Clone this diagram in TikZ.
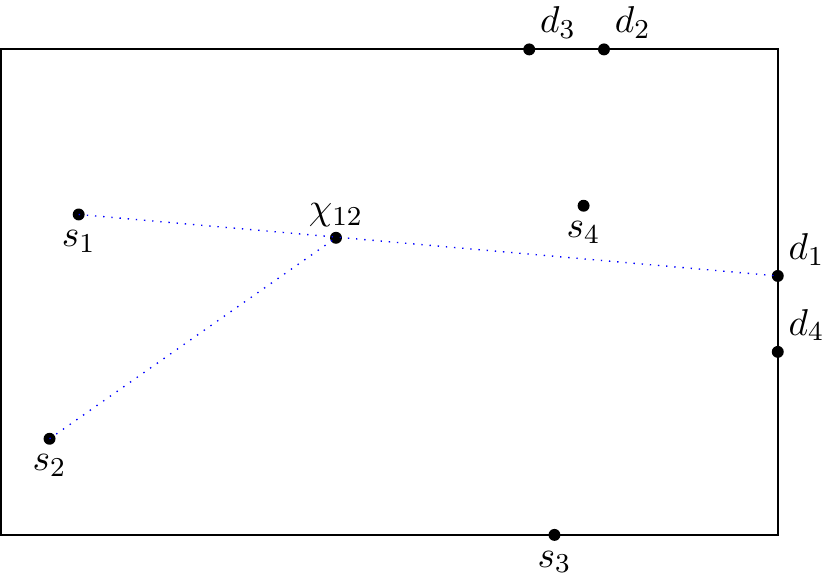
\documentclass[tikz,border=0pt]{standalone}
\begin{document}
\begin{tikzpicture}[
  pt/.style={circle,fill=black,inner sep=0pt,minimum size=3.5pt},
  link/.style={blue,dotted,line width=0.4pt},
  lbl/.style={inner sep=3pt,font=\fontsize{11}{13}\selectfont},
  lblb/.style={lbl,below,inner sep=4.5pt}
]
\useasboundingbox (-0.0103,-0.423) rectangle (8.538,5.509);
\draw[line width=0.6pt] (0,0) rectangle (8,5);
\node[pt] (d3) at (5.44,5) {};
\node[pt] (d2) at (6.21,5) {};
\node[pt] (s1) at (0.8,3.3) {};
\node[pt] (chi) at (3.45,3.06) {};
\node[pt] (s4) at (6.0,3.39) {};
\node[pt] (d1) at (8,2.667) {};
\node[pt] (d4) at (8,1.885) {};
\node[pt] (s2) at (0.5,0.99) {};
\node[pt] (s3) at (5.7,0) {};
\node[lbl,above right] (ld3) at (d3) {$d_3$};
\node[lbl,above right] (ld2) at (d2) {$d_2$};
\node[lbl,above right] (ld1) at (d1) {$d_1$};
\node[lbl,above right] (ld4) at (d4) {$d_4$};
\node[lbl,above] (lchi) at (chi) {$\chi_{12}$};
\node[lblb] (ls1) at (s1) {$s_1$};
\node[lblb] (ls4) at (s4) {$s_4$};
\node[lblb] (ls2) at (s2) {$s_2$};
\node[lblb] (ls3) at (s3) {$s_3$};
\draw[link] (s1.center) -- (d1.center);
\draw[link] (s2.center) -- (chi.center);
\end{tikzpicture}
\end{document}
